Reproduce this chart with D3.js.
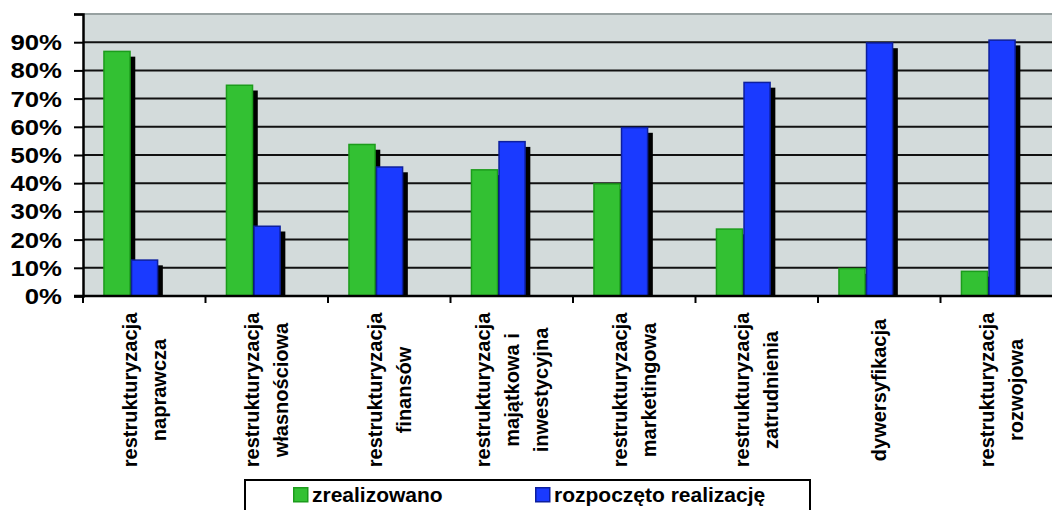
<!DOCTYPE html>
<html>
<head>
<meta charset="utf-8">
<script src="https://cdn.jsdelivr.net/npm/d3@7"></script>
<style>
  body { margin: 0; background: #fff; }
  text { font-family: "Liberation Sans", Arial, sans-serif; font-weight: bold; fill: #000; }
</style>
</head>
<body>
<div id="wrapper"></div>
<script>
// data
const categories = [
  ["restrukturyzacja", "naprawcza"],
  ["restrukturyzacja", "własnościowa"],
  ["restrukturyzacja", "finansów"],
  ["restrukturyzacja", "majątkowa i", "inwestycyjna"],
  ["restrukturyzacja", "marketingowa"],
  ["restrukturyzacja", "zatrudnienia"],
  ["dywersyfikacja"],
  ["restrukturyzacja", "rozwojowa"],
]
const seriesNames = ["zrealizowano", "rozpoczęto realizację"]
const zrealizowano = [87, 75, 54, 45, 40, 24, 10, 9]
const rozpoczeto = [13, 25, 46, 55, 60, 76, 90, 91]
const yTicks = [0, 10, 20, 30, 40, 50, 60, 70, 80, 90, 100]

const colors = ["#33c133", "#1a3aff"]
const strokes = ["#1c9c1c", "#0d1f9e"]

// dimensions
const dimensions = {
  width: 1052,
  height: 510,
  margin: { top: 14, left: 83, bottom: 214 },
  bandWidth: 122.5,
}
const plotBottom = dimensions.height - dimensions.margin.bottom
const plotRight = dimensions.margin.left + dimensions.bandWidth * categories.length

const svg = d3.select("#wrapper")
  .append("svg")
    .attr("width", dimensions.width)
    .attr("height", dimensions.height)

// scales
const xScale = d3.scaleBand()
    .domain(d3.range(categories.length))
    .range([dimensions.margin.left, plotRight])

const bw = xScale.bandwidth()
const subScale = d3.scaleBand()
    .domain(d3.range(seriesNames.length))
    .range([bw * 0.165, bw * 0.165 + bw * 0.45])

const yScale = d3.scaleLinear()
    .domain([0, 100])
    .range([plotBottom, dimensions.margin.top])

// plot area
svg.append("rect")
    .attr("x", dimensions.margin.left)
    .attr("y", yScale(100))
    .attr("width", plotRight - dimensions.margin.left)
    .attr("height", yScale(0) - yScale(100))
    .attr("fill", "#d3dbdb")

svg.append("line")
    .attr("x1", dimensions.margin.left).attr("x2", plotRight)
    .attr("y1", yScale(100)).attr("y2", yScale(100))
    .attr("stroke", "#97a1a1").attr("stroke-width", 2)

// gridlines
svg.append("g")
  .selectAll("line")
  .data(yTicks.filter(d => d > 0 && d < 100))
  .join("line")
    .attr("x1", dimensions.margin.left).attr("x2", plotRight)
    .attr("y1", d => yScale(d)).attr("y2", d => yScale(d))
    .attr("stroke", "#111").attr("stroke-width", 2)

// bars with shadows
const seriesValues = [zrealizowano, rozpoczeto]
seriesValues.forEach((values, s) => {
  const g = svg.append("g")
  g.selectAll(".shadow")
    .data(values)
    .join("rect")
      .attr("class", "shadow")
      .attr("x", (d, i) => xScale(i) + subScale(s) + 4.5)
      .attr("y", d => yScale(d) + 6)
      .attr("width", subScale.bandwidth())
      .attr("height", d => plotBottom - yScale(d) - 6)
      .attr("fill", "#000")
  g.selectAll(".bar")
    .data(values)
    .join("rect")
      .attr("class", "bar")
      .attr("x", (d, i) => xScale(i) + subScale(s) + 0.75)
      .attr("y", d => yScale(d) + 0.75)
      .attr("width", subScale.bandwidth() - 1.5)
      .attr("height", d => plotBottom - yScale(d) - 0.75)
      .attr("fill", colors[s])
      .attr("stroke", strokes[s])
      .attr("stroke-width", 1.5)
})

// y axis
const yAxis = svg.append("g")
    .attr("transform", `translate(${dimensions.margin.left},0)`)
    .call(d3.axisLeft(yScale)
      .tickValues(yTicks)
      .tickSize(9)
      .tickPadding(0)
      .tickFormat(""))
yAxis.select(".domain").attr("stroke", "#000").attr("stroke-width", 2.5)
yAxis.selectAll(".tick line").attr("stroke", "#000").attr("stroke-width", 2)

svg.append("g")
  .selectAll("text")
  .data(yTicks.filter(d => d < 100))
  .join("text")
    .attr("transform", d => `translate(62,${yScale(d)}) scale(1.17,1)`)
    .attr("text-anchor", "end")
    .attr("dy", "0.36em")
    .style("font-size", "22px")
    .text(d => d + "%")

// x axis
svg.append("line")
    .attr("x1", dimensions.margin.left - 9).attr("x2", plotRight)
    .attr("y1", plotBottom).attr("y2", plotBottom)
    .attr("stroke", "#000").attr("stroke-width", 2.5)

svg.append("g")
  .selectAll("line")
  .data(d3.range(categories.length + 1))
  .join("line")
    .attr("x1", i => dimensions.margin.left + i * bw)
    .attr("x2", i => dimensions.margin.left + i * bw)
    .attr("y1", plotBottom).attr("y2", plotBottom + 7)
    .attr("stroke", "#000").attr("stroke-width", 2)

const lineGap = 29
const xLabels = svg.append("g")
  .selectAll("g")
  .data(categories)
  .join("g")
    .attr("transform", (d, i) => `translate(${xScale(i) + bw / 2},390) rotate(-90)`)

xLabels.selectAll("text")
  .data(d => d.map((t, j) => ({ t, off: (j - (d.length - 1) / 2) * lineGap })))
  .join("text")
    .attr("x", 0)
    .attr("y", d => d.off)
    .attr("dy", "0.35em")
    .attr("text-anchor", "middle")
    .style("font-size", "20px")
    .text(d => d.t)

// legend
const legend = svg.append("g")
legend.append("rect")
    .attr("x", 245).attr("y", 480)
    .attr("width", 565).attr("height", 45)
    .attr("fill", "#fff")
    .attr("stroke", "#000").attr("stroke-width", 2)

const legendX = [293, 535]
seriesNames.forEach((name, s) => {
  legend.append("rect")
      .attr("x", legendX[s] + 0.75).attr("y", 487.75)
      .attr("width", 14).attr("height", 14)
      .attr("fill", colors[s])
      .attr("stroke", strokes[s]).attr("stroke-width", 1.5)
  legend.append("text")
      .attr("x", legendX[s] + 19)
      .attr("y", 502)
      .style("font-size", "21px")
      .text(name)
})
</script>
</body>
</html>
